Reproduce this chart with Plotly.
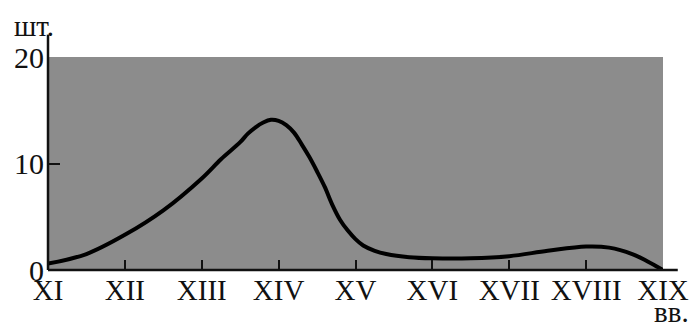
import plotly.graph_objects as go

# Data
century_pos = [11, 11.5, 12, 12.5, 13, 13.25, 13.5, 13.6, 13.7, 13.8, 13.9, 14.0,
               14.1, 14.2, 14.3, 14.4, 14.5, 14.6, 14.7, 14.8, 14.9, 15.0,
               15.1, 15.25, 15.4, 15.7, 16, 16.5, 17, 17.5, 18, 18.3, 18.6,
               18.8, 19]
counts = [0.6, 1.5, 3.3, 5.6, 8.6, 10.4, 12.0, 12.8, 13.4, 13.85, 14.1, 14.0,
          13.6, 12.9, 11.8, 10.6, 9.25, 7.8, 6.1, 4.7, 3.7, 2.9,
          2.3, 1.8, 1.5, 1.2, 1.1, 1.1, 1.3, 1.8, 2.2, 2.1, 1.5,
          0.8, 0.0]

tick_vals = [11, 12, 13, 14, 15, 16, 17, 18, 19]
tick_text = ["XI", "XII", "XIII", "XIV", "XV", "XVI", "XVII", "XVIII", "XIX"]
y_ticks = [0, 10, 20]

FONT = "Liberation Serif, Times New Roman, serif"

fig = go.Figure()
fig.add_trace(go.Scatter(
    x=century_pos, y=counts, mode="lines",
    line=dict(color="black", width=4, shape="spline", smoothing=1.0),
    hoverinfo="skip", showlegend=False,
))

fig.update_layout(
    width=694, height=328,
    margin=dict(l=48, r=31, t=57, b=58, autoexpand=False),
    paper_bgcolor="white",
    plot_bgcolor="#8c8c8c",
    font=dict(family=FONT, size=29, color="#111"),
    xaxis=dict(
        range=[11, 19], tickvals=tick_vals, ticktext=tick_text,
        ticks="inside", ticklen=10, tickwidth=2, tickcolor="#111",
        showgrid=False, zeroline=False, showline=False,
        tickfont=dict(family=FONT, size=29, color="#111"),
        fixedrange=True,
    ),
    yaxis=dict(
        range=[0, 20], tickvals=y_ticks,
        ticks="inside", ticklen=12, tickwidth=2, tickcolor="#111",
        showgrid=False, zeroline=False, showline=False,
        tickfont=dict(family=FONT, size=30, color="#111"),
        ticklabelstandoff=3,
        fixedrange=True,
    ),
    shapes=[
        dict(type="line", xref="paper", yref="paper", x0=0, x1=0, y0=0, y1=1.105,
             line=dict(color="#111", width=2.5)),
        dict(type="line", xref="paper", yref="paper", x0=0, x1=1.024, y0=0, y1=0,
             line=dict(color="#111", width=2.5)),
    ],
    annotations=[
        dict(text="шт.", xref="paper", yref="paper", x=-0.058, y=1.06,
             xanchor="left", yanchor="bottom", showarrow=False,
             font=dict(family=FONT, size=29, color="#111")),
        dict(text="вв.", xref="paper", yref="paper", x=1.045, y=-0.113,
             xanchor="right", yanchor="top", showarrow=False,
             font=dict(family=FONT, size=29, color="#111")),
    ],
)

fig.write_html("out.html", config={"displayModeBar": False},
               post_script="document.body.style.margin='0';")
